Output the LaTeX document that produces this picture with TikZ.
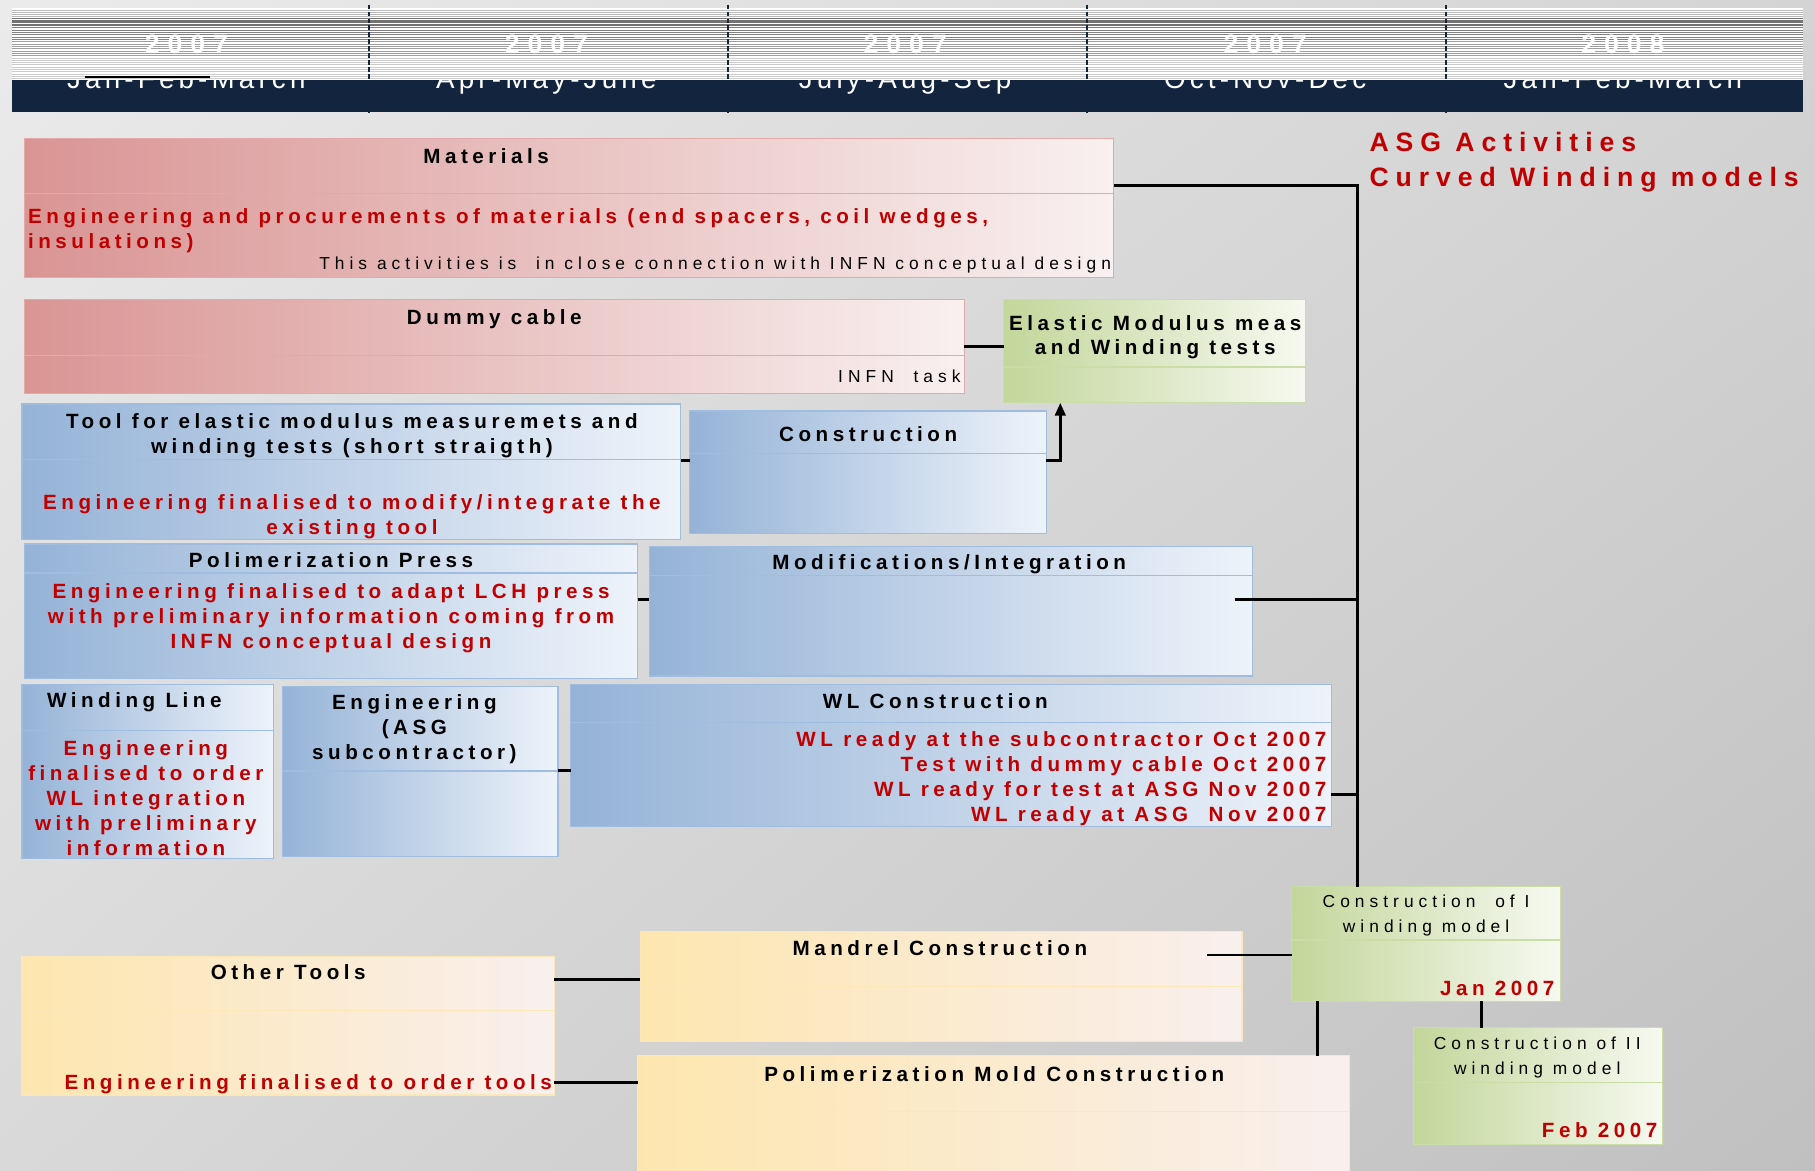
\documentclass[tikz,border=0pt]{standalone}
\usepackage{fontspec}
\setmainfont{Liberation Sans}
\newfontfamily\bld[LetterSpace=22]{Liberation Sans}
\newfontfamily\rgl[LetterSpace=29]{Liberation Sans}
\newfontfamily\ttlf[LetterSpace=26]{Liberation Sans}
\newfontfamily\monf[LetterSpace=15]{Liberation Sans}
\newfontfamily\yrf[LetterSpace=30]{Liberation Sans}
\usetikzlibrary{arrows.meta,shadings}
\definecolor{redL}{HTML}{D99594}
\definecolor{redR}{HTML}{F9F0F0}
\definecolor{redB}{HTML}{E3A9A9}
\definecolor{bluL}{HTML}{95B3D7}
\definecolor{bluR}{HTML}{EEF3FA}
\definecolor{bluB}{HTML}{A0BCDE}
\definecolor{grnL}{HTML}{C3D69B}
\definecolor{grnR}{HTML}{F6F9F0}
\definecolor{grnB}{HTML}{CADDA6}
\definecolor{ylwL}{HTML}{FDE6AE}
\definecolor{ylwR}{HTML}{F9EFEE}
\definecolor{ylwB}{HTML}{FCE7B8}
\definecolor{txtred}{HTML}{C00000}
\definecolor{navy}{HTML}{12243E}
\definecolor{bgUL}{HTML}{EBEBEB}
\definecolor{bgUR}{HTML}{D4D4D4}
\definecolor{bgLL}{HTML}{D9D9D9}
\definecolor{bgLR}{HTML}{C0C0C0}
\tikzset{
  boxbase/.style={anchor=north west, inner sep=0pt, outer sep=0pt, line width=1pt},
  rbox/.style={boxbase, draw=redB, left color=redL, right color=redR},
  bbox/.style={boxbase, draw=bluB, left color=bluL, right color=bluR},
  gbox/.style={boxbase, draw=grnB, left color=grnL, right color=grnR},
  ybox/.style={boxbase, draw=ylwB, left color=ylwL, right color=ylwR},
  rdiv/.style={draw=redB, line width=1pt},
  bdiv/.style={draw=bluB, line width=1pt},
  gdiv/.style={draw=grnB, line width=1pt},
  ydiv/.style={draw=ylwB, line width=1pt},
  conn/.style={draw=black, line width=2.5pt},
  tb/.style={font=\bld\bfseries\fontsize{17.8}{21.5}\selectfont, inner sep=0pt, align=center, anchor=north, text=black},
  tr/.style={tb, text=txtred},
  tn/.style={font=\rgl\fontsize{15}{21.5}\selectfont, inner sep=0pt, align=center, anchor=north, text=black},
  month/.style={font=\monf\fontsize{24}{28}\selectfont, text=white, inner sep=0pt, anchor=base},
  year/.style={font=\yrf\bfseries\fontsize{23}{28}\selectfont, text=white, inner sep=0pt, anchor=base},
  coldiv/.style={draw=navy, line width=1.5pt, dash pattern=on 4pt off 2pt}
}
\begin{document}
\begin{tikzpicture}[x=1pt,y=-1pt]
\useasboundingbox (0,0) rectangle (1568,1011.6);
% background
\shade[upper left=bgUL, upper right=bgUR, lower left=bgLL, lower right=bgLR] (0,0) rectangle (1568,1011.6);
% header: month band (its labels are partly covered by the year strip)
\fill[navy] (10,69) rectangle (1558,97);
\node[month] (m1) at (161,76.5) {Jan-Feb-March};
\node[month] (m2) at (472,76.5) {Apr-May-June};
\node[month] (m3) at (782,76.5) {July-Aug-Sep};
\node[month] (m4) at (1093,76.5) {Oct-Nov-Dec};
\node[month] (m5) at (1402,76.5) {Jan-Feb-March};
% year strip
\fill[white] (10,7) rectangle (1558,69);
\foreach \yy in {9,10.75,12.5,14.25}
  \draw[black!28, line width=0.6pt] (10,\yy) -- (1558,\yy);
\foreach \yy in {16,17.2,18.4,19.6,20.8,22}
  \draw[black!55, line width=0.7pt] (10,\yy) -- (1558,\yy);
\foreach \yy in {24,26,28,30,32,34}
  \draw[black!50, line width=0.6pt] (10,\yy) -- (1558,\yy);
\foreach \yy in {36,38,40,42,44,46,48}
  \draw[black!38, line width=0.6pt] (10,\yy) -- (1558,\yy);
\foreach \yy in {50,52,54,56,58,60,62,64,66,68}
  \draw[black!20, line width=0.6pt] (10,\yy) -- (1558,\yy);
\node[year] (y1) at (161,46) {2007};
\node[year] (y2) at (472,46) {2007};
\node[year] (y3) at (782,46) {2007};
\node[year] (y4) at (1093,46) {2007};
\node[year] (y5) at (1402,46) {2008};
\foreach \xx in {319,629,939,1249}
  \draw[coldiv] (\xx,4) -- (\xx,98);
\draw[black, line width=2pt] (73,66.8) -- (181,66.8);
% boxes
\node[rbox, minimum width=941pt, minimum height=120pt] (mat) at (21,120) {};
\draw[rdiv] ([yshift=-47pt]mat.north west) -- ([yshift=-47pt]mat.north east);
\node[rbox, minimum width=812pt, minimum height=81pt] (dum) at (21,259) {};
\draw[rdiv] ([yshift=-48pt]dum.north west) -- ([yshift=-48pt]dum.north east);
\node[gbox, minimum width=261pt, minimum height=89pt] (ela) at (867,259) {};
\draw[gdiv] ([yshift=-58pt]ela.north west) -- ([yshift=-58pt]ela.north east);
\node[bbox, minimum width=569pt, minimum height=117pt] (tool) at (19,349) {};
\draw[bdiv] ([yshift=-48pt]tool.north west) -- ([yshift=-48pt]tool.north east);
\node[bbox, minimum width=308pt, minimum height=106pt] (con) at (596,355) {};
\draw[bdiv] ([yshift=-37pt]con.north west) -- ([yshift=-37pt]con.north east);
\node[bbox, minimum width=530pt, minimum height=116pt] (prs) at (21,470) {};
\draw[bdiv] ([yshift=-25pt]prs.north west) -- ([yshift=-25pt]prs.north east);
\node[bbox, minimum width=521pt, minimum height=112pt] (mod) at (561,472) {};
\draw[bdiv] ([yshift=-25pt]mod.north west) -- ([yshift=-25pt]mod.north east);
\node[bbox, minimum width=217pt, minimum height=151pt] (wl) at (19,591) {};
\draw[bdiv] ([yshift=-40pt]wl.north west) -- ([yshift=-40pt]wl.north east);
\node[bbox, minimum width=238pt, minimum height=147pt] (eng) at (244,593) {};
\draw[bdiv] ([yshift=-73pt]eng.north west) -- ([yshift=-73pt]eng.north east);
\node[bbox, minimum width=657pt, minimum height=123pt] (wlc) at (493,591) {};
\draw[bdiv] ([yshift=-33pt]wlc.north west) -- ([yshift=-33pt]wlc.north east);
\node[gbox, minimum width=232pt, minimum height=99pt] (c1) at (1116,766) {};
\draw[gdiv] ([yshift=-46pt]c1.north west) -- ([yshift=-46pt]c1.north east);
\node[gbox, minimum width=215pt, minimum height=101pt] (c2) at (1221,888) {};
\draw[gdiv] ([yshift=-47pt]c2.north west) -- ([yshift=-47pt]c2.north east);
\node[ybox, minimum width=520pt, minimum height=95pt] (man) at (553,805) {};
\draw[ydiv] ([yshift=-47pt]man.north west) -- ([yshift=-47pt]man.north east);
\node[ybox, minimum width=460pt, minimum height=120pt] (oth) at (19,826) {};
\draw[ydiv] ([yshift=-47pt]oth.north west) -- ([yshift=-47pt]oth.north east);
\node[ybox, minimum width=615pt, minimum height=110pt] (mold) at (551,912) {};
\draw[ydiv] ([yshift=-48pt]mold.north west) -- ([yshift=-48pt]mold.north east);
% connector coordinates
\coordinate (bus) at ([xshift=57pt]c1.north west);
\coordinate (pMat) at ([yshift=-40pt]mat.north east);
\coordinate (pMod) at ([xshift=-15pt,yshift=-46pt]mod.north east);
\coordinate (pWlc) at ([yshift=-95pt]wlc.north east);
\coordinate (pDum) at ([yshift=-40pt]dum.north east);
\coordinate (pTool) at ([yshift=-49pt]tool.north east);
\coordinate (pCon) at ([yshift=-43pt]con.north east);
\coordinate (pEla) at ([xshift=49pt]ela.south west);
\coordinate (pPrs) at ([yshift=-48pt]prs.north east);
\coordinate (pEng) at ([yshift=-73pt]eng.north east);
\coordinate (pMan) at ([xshift=-30pt,yshift=-20pt]man.north east);
\coordinate (pOth1) at ([yshift=-20pt]oth.north east);
\coordinate (pOth2) at ([yshift=-109pt]oth.north east);
\coordinate (pC1a) at ([xshift=22pt]c1.south west);
\coordinate (pC1b) at ([xshift=164pt]c1.south west);
% connectors
\draw[conn] (pMat) -| (bus);
\draw[conn] (pMod) -- (pMod -| bus);
\draw[conn] (pWlc) -- (pWlc -| bus);
\draw[conn] (pDum) -- (pDum -| ela.west);
\draw[conn] (pTool) -- (pTool -| con.west);
\draw[conn, -{Triangle[length=11pt,width=9pt]}] (pCon) -| (pEla);
\draw[conn] (pPrs) -- (pPrs -| mod.west);
\draw[conn] (pEng) -- (pEng -| wlc.west);
\draw[conn] (pMan) -- (pMan -| c1.west);
\draw[conn] (pOth1) -- (pOth1 -| man.west);
\draw[conn] (pOth2) -- (pOth2 -| mold.west);
\draw[conn] (pC1a) -- (pC1a |- mold.north);
\draw[conn] (pC1b) -- (pC1b |- c2.north);
% texts
\node[tb] (matT) at (420,128) {Materials};
\node[tr, anchor=north west, align=left] (matR) at (24,180) {Engineering and procurements of materials (end spacers, coil wedges,\\insulations)};
\node[tn, anchor=north east, align=right] (matN) at (960,222) {This activities is~~in close connection with INFN conceptual design};
\node[tb] (dumT) at (427,267) {Dummy cable};
\node[tn, anchor=north east, align=right] (dumN) at (830,319) {INFN~~task};
\node[tb] (elaT) at (998,272) {Elastic Modulus meas\\and Winding tests};
\node[tb] (toolT) at (304,357) {Tool for elastic modulus measuremets and\\winding tests (short straigth)};
\node[tr] (toolR) at (304,427) {Engineering finalised to modify/integrate the\\existing tool};
\node[tb] (conT) at (750,368) {Construction};
\node[tb] (prsT) at (286,477) {Polimerization Press};
\node[tr] (prsR) at (286,504) {Engineering finalised to adapt LCH press\\with preliminary information coming from\\INFN conceptual design};
\node[tb] (modT) at (820,479) {Modifications/Integration};
\node[tb] (wlT) at (116,598) {Winding Line};
\node[tr] (wlR) at (126,640) {Engineering\\finalised to order\\WL integration\\with preliminary\\information};
\node[tb] (engT) at (358,600) {Engineering\\(ASG\\subcontractor)};
\node[tb] (wlcT) at (808,599) {WL Construction};
\node[tr, anchor=north east, align=right] (wlcR) at (1146,632) {WL ready at the subcontractor Oct 2007\\Test with dummy cable Oct 2007\\WL ready for test at ASG Nov 2007\\WL ready at ASG~~Nov 2007};
\node[tn] (c1T) at (1232,773) {Construction~~of I\\winding model};
\node[tr, anchor=north east, align=right] (c1R) at (1343,847) {Jan 2007};
\node[tn] (c2T) at (1328,896) {Construction of II\\winding model};
\node[tr, anchor=north east, align=right] (c2R) at (1432,970) {Feb 2007};
\node[tb] (manT) at (812,812) {Mandrel Construction};
\node[tb] (othT) at (249,833) {Other Tools};
\node[tr, anchor=north east, align=right] (othR) at (477,928) {Engineering finalised to order tools};
\node[tb] (moldT) at (859,921) {Polimerization Mold Construction};
\node[font=\ttlf\bfseries\fontsize{23}{30}\selectfont, text=txtred, align=left, anchor=north west, inner sep=0pt] (title) at (1183,114) {ASG Activities\\Curved Winding models};
\end{tikzpicture}
\end{document}
